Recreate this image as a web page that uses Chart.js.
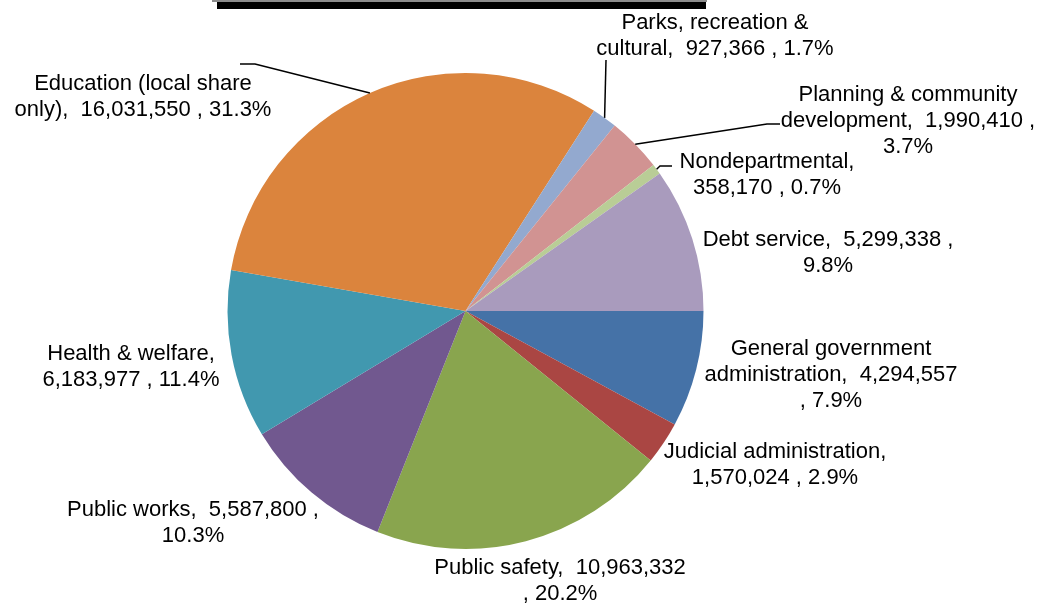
<!DOCTYPE html>
<html>

<head>
    <meta charset="UTF-8">
    <title>Expenditures by Function</title>
    <script src="https://cdn.jsdelivr.net/npm/chart.js@4.4.1/dist/chart.umd.min.js"></script>
    <style>
        body { margin: 0; background: #ffffff; }
        #wrap { position: relative; width: 1049px; height: 606px; }
        /* bottom edge of the title box, cut off at the top of the page */
        #titleEdge { position: absolute; left: 212px; top: 0; width: 495px; height: 2px; background: #8c8c8c; }
        #titleBar { position: absolute; left: 217px; top: 2px; width: 489px; height: 7px; background: #000000; }
    </style>
</head>

<body>
    <div id="wrap">
        <canvas id="pieChart" width="1049" height="606"></canvas>
        <div id="titleEdge"></div>
        <div id="titleBar"></div>
    </div>
    <script type="text/javascript">
        // slices go clockwise from 3 o'clock
        var categories = [
            "General government administration",
            "Judicial administration",
            "Public safety",
            "Public works",
            "Health & welfare",
            "Education (local share only)",
            "Parks, recreation & cultural",
            "Planning & community development",
            "Nondepartmental",
            "Debt service"
        ];
        var amounts = [4294557, 1570024, 10963332, 5587800, 6183977, 16031550, 927366, 1990410, 358170, 5299338];
        var shares = [7.9, 2.9, 20.2, 10.3, 11.4, 31.3, 1.7, 3.7, 0.7, 9.8];
        var sliceColors = ["#4572A7", "#AA4643", "#89A54E", "#71588F", "#4198AF", "#DB843D", "#93A9CF", "#D19392", "#B9CD96", "#A99BBD"];

        // where each label sits (centre x, middle of first line) and its leader line bends
        var labelSpots = [
            { x: 831, y: 347 },
            { x: 775, y: 450 },
            { x: 560, y: 566 },
            { x: 193, y: 508 },
            { x: 131, y: 352 },
            { x: 143, y: 82, leader: [[255, 64], [240, 64]] },
            { x: 715, y: 21, leader: [[606, 60]] },
            { x: 908, y: 93, leader: [[767, 124], [780, 124]] },
            { x: 767, y: 160, leader: [[660, 166], [672, 166]] },
            { x: 828, y: 238 }
        ];

        var labelFont = "22px 'Liberation Sans', Arial, sans-serif";
        var lineHeight = 26;
        var wrapWidth = 260;

        function labelText(i) {
            return categories[i] + ",  " + amounts[i].toLocaleString("en-US") + " , " + shares[i].toFixed(1) + "%";
        }

        // greedy word wrap, keeping the double spaces of the label
        function wrapText(ctx, text, maxWidth) {
            var words = text.split(" ");
            var lines = [];
            var line = "";
            for (var i = 0; i < words.length; i++) {
                var test = line === "" ? words[i] : line + " " + words[i];
                if (line !== "" && words[i] !== "" && ctx.measureText(test.replace(/\s+$/, "")).width > maxWidth) {
                    lines.push(line.replace(/\s+$/, ""));
                    line = words[i];
                } else {
                    line = test;
                }
            }
            lines.push(line.replace(/\s+$/, ""));
            return lines;
        }

        var sliceLabels = {
            id: "sliceLabels",
            afterDraw: function (chart) {
                var ctx = chart.ctx;
                var arcs = chart.getDatasetMeta(0).data;
                ctx.save();
                ctx.font = labelFont;
                ctx.fillStyle = "#000000";
                ctx.textAlign = "center";
                ctx.textBaseline = "alphabetic";
                for (var i = 0; i < arcs.length; i++) {
                    var spot = labelSpots[i];
                    var arc = arcs[i].getProps(["x", "y", "startAngle", "endAngle", "outerRadius"], true);

                    if (spot.leader) {
                        var mid = (arc.startAngle + arc.endAngle) / 2;
                        ctx.beginPath();
                        ctx.moveTo(arc.x + Math.cos(mid) * arc.outerRadius, arc.y + Math.sin(mid) * arc.outerRadius);
                        for (var k = 0; k < spot.leader.length; k++) {
                            ctx.lineTo(spot.leader[k][0], spot.leader[k][1]);
                        }
                        ctx.strokeStyle = "#000000";
                        ctx.lineWidth = 1.5;
                        ctx.stroke();
                    }

                    var lines = wrapText(ctx, labelText(i), wrapWidth);
                    for (var j = 0; j < lines.length; j++) {
                        ctx.fillText(lines[j], spot.x, spot.y + 8 + j * lineHeight);
                    }
                }
                ctx.restore();
            }
        };

        new Chart("pieChart", {
            type: "pie",
            data: {
                labels: categories,
                datasets: [{
                    data: shares,
                    backgroundColor: sliceColors,
                    borderWidth: 0
                }]
            },
            options: {
                responsive: false,
                animation: false,
                rotation: 90,
                layout: {
                    padding: { left: 227, right: 345, top: 73, bottom: 57 }
                },
                plugins: {
                    legend: { display: false },
                    tooltip: { enabled: false }
                }
            },
            plugins: [sliceLabels]
        });
    </script>
</body>

</html>
